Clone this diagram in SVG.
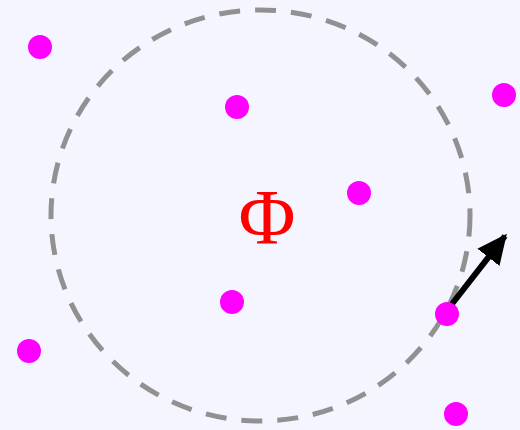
<svg xmlns="http://www.w3.org/2000/svg" width="520" height="430" viewBox="0 0 520 430">
<style>
.pt{fill:#ff00ff}
.bd{fill:none;stroke:#919191;stroke-width:5;stroke-dasharray:21 15}
.lbl{font-family:"Liberation Serif",serif;font-size:78px;fill:#ff0000;text-anchor:middle}
</style>
<defs>
<marker id="ah" viewBox="0 0 30 28" refX="27" refY="14" markerWidth="30" markerHeight="28" orient="auto" markerUnits="userSpaceOnUse">
<path d="M0,0 L30,14 L0,28 z" fill="#000"/>
</marker>
</defs>
<rect width="520" height="430" fill="#f5f5ff"/>
<g id="boundary"><ellipse class="bd" cx="260.5" cy="215.5" rx="209.5" ry="205.5"/></g>
<g id="label"><text class="lbl" x="267" y="243">Φ</text></g>
<g id="connectors"><line x1="452" y1="304" x2="505" y2="236" stroke="#000" stroke-width="6" marker-end="url(#ah)"/></g>
<g id="p1"><circle class="pt" cx="40" cy="47" r="12"/></g>
<g id="p2"><circle class="pt" cx="237" cy="107" r="12"/></g>
<g id="p3"><circle class="pt" cx="504" cy="95" r="12"/></g>
<g id="p4"><circle class="pt" cx="359" cy="193" r="12"/></g>
<g id="p5"><circle class="pt" cx="232" cy="302" r="12"/></g>
<g id="p6"><circle class="pt" cx="447" cy="314" r="12"/></g>
<g id="p7"><circle class="pt" cx="29" cy="351" r="12"/></g>
<g id="p8"><circle class="pt" cx="456" cy="414" r="12"/></g>
</svg>
